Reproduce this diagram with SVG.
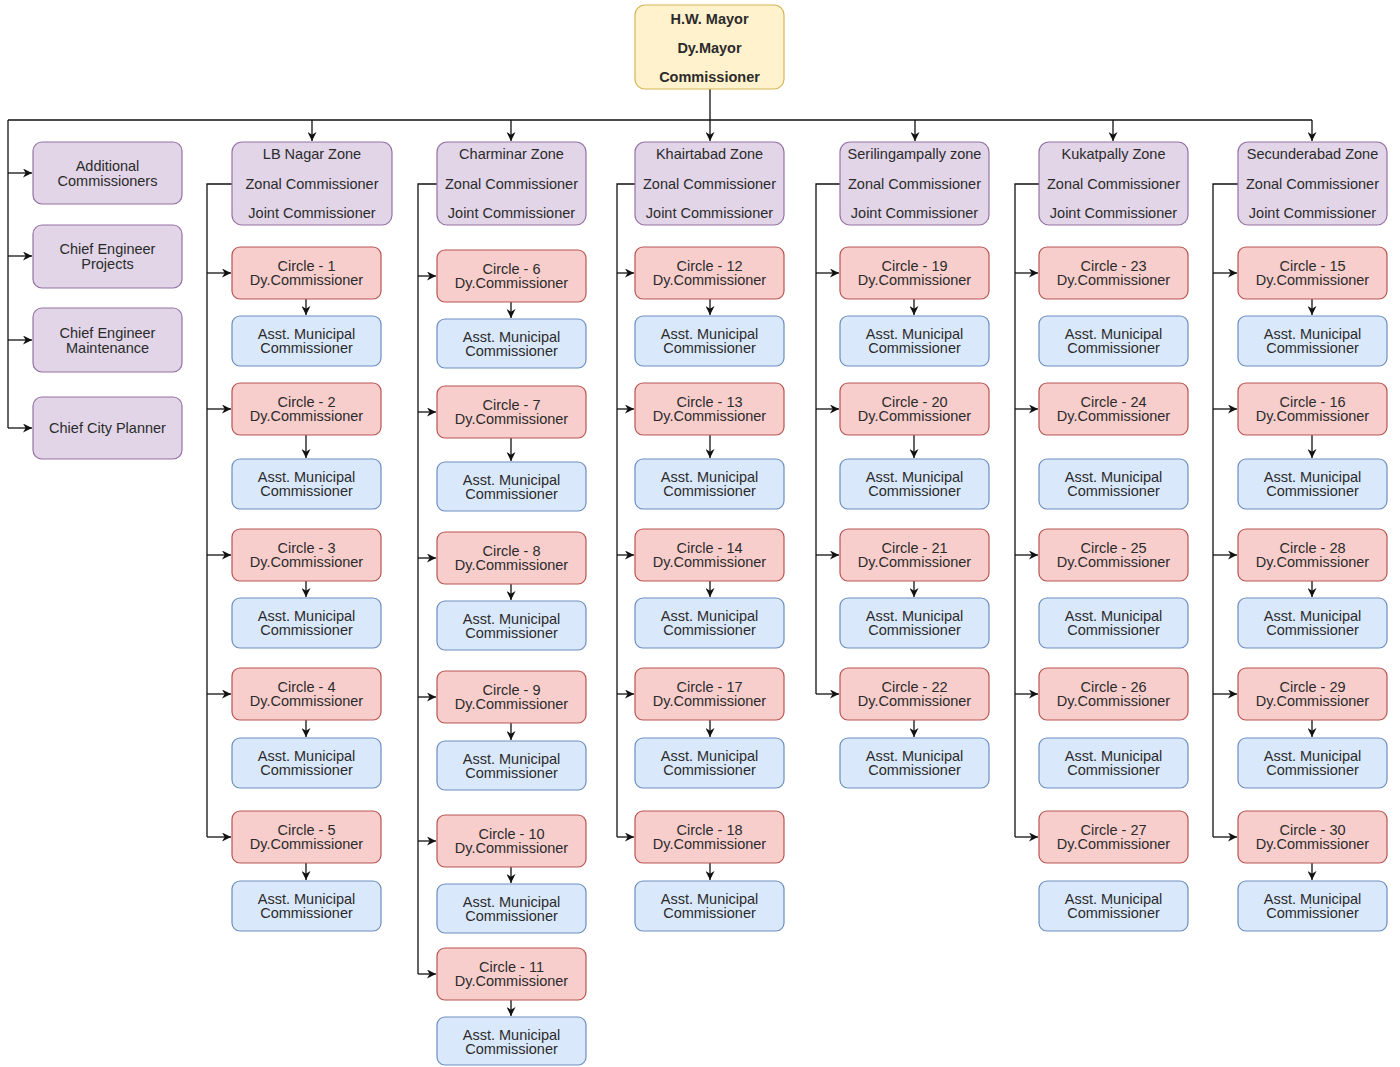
<svg xmlns="http://www.w3.org/2000/svg" width="1400" height="1067" viewBox="0 0 1400 1067">
<defs>
<marker id="arr" viewBox="0 0 10 10" refX="10" refY="5" markerWidth="10" markerHeight="9" markerUnits="userSpaceOnUse" orient="auto"><path d="M0,0 L10,5 L0,10 L3,5 z" fill="#111"/></marker>
<marker id="arrS" viewBox="0 0 10 10" refX="10" refY="5" markerWidth="8" markerHeight="8" markerUnits="userSpaceOnUse" orient="auto"><path d="M0,0 L10,5 L0,10 L3,5 z" fill="#111"/></marker>
<style>
text{font-family:"Liberation Sans",Arial,Helvetica,sans-serif;font-size:14.5px;fill:#2b2b2b;text-anchor:middle}
.b{font-weight:bold}
.y{fill:#fff2cc;stroke:#d6b656;stroke-width:1.2}
.p{fill:#e1d5e7;stroke:#9673a6;stroke-width:1.2}
.r{fill:#f8cecc;stroke:#b85450;stroke-width:1.2}
.u{fill:#dae8fc;stroke:#6c8ebf;stroke-width:1.2}
.c{fill:none;stroke:#111;stroke-width:1.3}
.c2{fill:none;stroke:#111;stroke-width:1.3;marker-end:url(#arr)}
.c3{fill:none;stroke:#111;stroke-width:1.3;marker-end:url(#arrS)}
</style>
</defs>
<rect width="1400" height="1067" fill="#fff"/>

<g id="connectors">
<path class="c" d="M8,120 H1312"/>
<path class="c2" d="M710,89 V141"/>
<path class="c2" d="M312,120 V141"/>
<path class="c2" d="M511,120 V141"/>
<path class="c2" d="M915,120 V141"/>
<path class="c2" d="M1113,120 V141"/>
<path class="c2" d="M1312,120 V141"/>
<path class="c" d="M8,120 V428"/>
<path class="c2" d="M8,173 H32"/>
<path class="c2" d="M8,256 H32"/>
<path class="c2" d="M8,340 H32"/>
<path class="c2" d="M8,428 H32"/>
<!-- zone inner arrows -->
<path class="c3" d="M319,192 V204"/>
<path class="c3" d="M512,192 V204"/>
<path class="c3" d="M710,192 V204"/>
<path class="c3" d="M927,192 V204"/>
<path class="c3" d="M1113,192 V204"/>
<path class="c3" d="M1312,192 V204"/>
<!-- LB Nagar -->
<path class="c" d="M232,184 H207 V837"/>
<path class="c2" d="M207,273 H231"/>
<path class="c2" d="M207,409 H231"/>
<path class="c2" d="M207,555 H231"/>
<path class="c2" d="M207,694 H231"/>
<path class="c2" d="M207,837 H231"/>
<path class="c2" d="M306,299 V315"/>
<path class="c2" d="M306,435 V458"/>
<path class="c2" d="M306,581 V597"/>
<path class="c2" d="M306,720 V737"/>
<path class="c2" d="M306,863 V880"/>
<!-- Charminar -->
<path class="c" d="M437,184 H418 V974"/>
<path class="c2" d="M418,276 H436"/>
<path class="c2" d="M418,412 H436"/>
<path class="c2" d="M418,558 H436"/>
<path class="c2" d="M418,697 H436"/>
<path class="c2" d="M418,841 H436"/>
<path class="c2" d="M418,974 H436"/>
<path class="c2" d="M511,302 V318"/>
<path class="c2" d="M511,438 V461"/>
<path class="c2" d="M511,584 V600"/>
<path class="c2" d="M511,723 V740"/>
<path class="c2" d="M511,867 V883"/>
<path class="c2" d="M511,1000 V1016"/>
<!-- Khairtabad -->
<path class="c" d="M635,184 H617 V837"/>
<path class="c2" d="M617,273 H634"/>
<path class="c2" d="M617,409 H634"/>
<path class="c2" d="M617,555 H634"/>
<path class="c2" d="M617,694 H634"/>
<path class="c2" d="M617,837 H634"/>
<path class="c2" d="M710,299 V315"/>
<path class="c2" d="M710,435 V458"/>
<path class="c2" d="M710,581 V597"/>
<path class="c2" d="M710,720 V737"/>
<path class="c2" d="M710,863 V880"/>
<!-- Serilingampally -->
<path class="c" d="M840,184 H816 V694"/>
<path class="c2" d="M816,273 H839"/>
<path class="c2" d="M816,409 H839"/>
<path class="c2" d="M816,555 H839"/>
<path class="c2" d="M816,694 H839"/>
<path class="c2" d="M914,299 V315"/>
<path class="c2" d="M914,435 V458"/>
<path class="c2" d="M914,581 V597"/>
<path class="c2" d="M914,720 V737"/>
<!-- Kukatpally -->
<path class="c" d="M1039,184 H1015 V837"/>
<path class="c2" d="M1015,273 H1038"/>
<path class="c2" d="M1015,409 H1038"/>
<path class="c2" d="M1015,555 H1038"/>
<path class="c2" d="M1015,694 H1038"/>
<path class="c2" d="M1015,837 H1038"/>
<!-- Secunderabad -->
<path class="c" d="M1238,184 H1213 V837"/>
<path class="c2" d="M1213,273 H1237"/>
<path class="c2" d="M1213,409 H1237"/>
<path class="c2" d="M1213,555 H1237"/>
<path class="c2" d="M1213,694 H1237"/>
<path class="c2" d="M1213,837 H1237"/>
<path class="c2" d="M1312,299 V315"/>
<path class="c2" d="M1312,435 V458"/>
<path class="c2" d="M1312,581 V597"/>
<path class="c2" d="M1312,720 V737"/>
<path class="c2" d="M1312,863 V880"/>
</g>

<g id="mayor"><rect class="y" x="635" y="5" width="149" height="84" rx="10"/>
<text class="b" x="709.5" y="24">H.W. Mayor</text><text class="b" x="709.5" y="53">Dy.Mayor</text><text class="b" x="709.5" y="82">Commissioner</text></g>

<g id="addl"><rect class="p" x="33" y="142" width="149" height="62" rx="9"/><text x="107.5" y="171">Additional</text><text x="107.5" y="186">Commissioners</text></g>
<g id="ceproj"><rect class="p" x="33" y="225" width="149" height="63" rx="9"/><text x="107.5" y="254">Chief Engineer</text><text x="107.5" y="269">Projects</text></g>
<g id="cemaint"><rect class="p" x="33" y="308" width="149" height="64" rx="9"/><text x="107.5" y="338">Chief Engineer</text><text x="107.5" y="353">Maintenance</text></g>
<g id="ccp"><rect class="p" x="33" y="397" width="149" height="62" rx="9"/><text x="107.5" y="433">Chief City Planner</text></g>

<g id="zone-lb"><rect class="p" x="232" y="142" width="160" height="83" rx="10"/><text x="312" y="159">LB Nagar Zone</text><text x="312" y="189">Zonal Commissioner</text><text x="312" y="218">Joint Commissioner</text></g>
<g id="zone-ch"><rect class="p" x="437" y="142" width="149" height="83" rx="10"/><text x="511.5" y="159">Charminar Zone</text><text x="511.5" y="189">Zonal Commissioner</text><text x="511.5" y="218">Joint Commissioner</text></g>
<g id="zone-kh"><rect class="p" x="635" y="142" width="149" height="83" rx="10"/><text x="709.5" y="159">Khairtabad Zone</text><text x="709.5" y="189">Zonal Commissioner</text><text x="709.5" y="218">Joint Commissioner</text></g>
<g id="zone-se"><rect class="p" x="840" y="142" width="149" height="83" rx="10"/><text x="914.5" y="159">Serilingampally zone</text><text x="914.5" y="189">Zonal Commissioner</text><text x="914.5" y="218">Joint Commissioner</text></g>
<g id="zone-ku"><rect class="p" x="1039" y="142" width="149" height="83" rx="10"/><text x="1113.5" y="159">Kukatpally Zone</text><text x="1113.5" y="189">Zonal Commissioner</text><text x="1113.5" y="218">Joint Commissioner</text></g>
<g id="zone-sc"><rect class="p" x="1238" y="142" width="149" height="83" rx="10"/><text x="1312.5" y="159">Secunderabad Zone</text><text x="1312.5" y="189">Zonal Commissioner</text><text x="1312.5" y="218">Joint Commissioner</text></g>

<!-- LB Nagar circles -->
<g id="c1"><rect class="r" x="232" y="247" width="149" height="52" rx="8"/><text x="306.5" y="271">Circle - 1</text><text x="306.5" y="285">Dy.Commissioner</text></g>
<g id="a1"><rect class="u" x="232" y="316" width="149" height="50" rx="8"/><text x="306.5" y="339">Asst. Municipal</text><text x="306.5" y="353">Commissioner</text></g>
<g id="c2"><rect class="r" x="232" y="383" width="149" height="52" rx="8"/><text x="306.5" y="407">Circle - 2</text><text x="306.5" y="421">Dy.Commissioner</text></g>
<g id="a2"><rect class="u" x="232" y="459" width="149" height="50" rx="8"/><text x="306.5" y="482">Asst. Municipal</text><text x="306.5" y="496">Commissioner</text></g>
<g id="c3"><rect class="r" x="232" y="529" width="149" height="52" rx="8"/><text x="306.5" y="553">Circle - 3</text><text x="306.5" y="567">Dy.Commissioner</text></g>
<g id="a3"><rect class="u" x="232" y="598" width="149" height="50" rx="8"/><text x="306.5" y="621">Asst. Municipal</text><text x="306.5" y="635">Commissioner</text></g>
<g id="c4"><rect class="r" x="232" y="668" width="149" height="52" rx="8"/><text x="306.5" y="692">Circle - 4</text><text x="306.5" y="706">Dy.Commissioner</text></g>
<g id="a4"><rect class="u" x="232" y="738" width="149" height="50" rx="8"/><text x="306.5" y="761">Asst. Municipal</text><text x="306.5" y="775">Commissioner</text></g>
<g id="c5"><rect class="r" x="232" y="811" width="149" height="52" rx="8"/><text x="306.5" y="835">Circle - 5</text><text x="306.5" y="849">Dy.Commissioner</text></g>
<g id="a5"><rect class="u" x="232" y="881" width="149" height="50" rx="8"/><text x="306.5" y="904">Asst. Municipal</text><text x="306.5" y="918">Commissioner</text></g>

<!-- Charminar circles -->
<g id="c6"><rect class="r" x="437" y="250" width="149" height="52" rx="8"/><text x="511.5" y="274">Circle - 6</text><text x="511.5" y="288">Dy.Commissioner</text></g>
<g id="a6"><rect class="u" x="437" y="319" width="149" height="49" rx="8"/><text x="511.5" y="342">Asst. Municipal</text><text x="511.5" y="356">Commissioner</text></g>
<g id="c7"><rect class="r" x="437" y="386" width="149" height="52" rx="8"/><text x="511.5" y="410">Circle - 7</text><text x="511.5" y="424">Dy.Commissioner</text></g>
<g id="a7"><rect class="u" x="437" y="462" width="149" height="49" rx="8"/><text x="511.5" y="485">Asst. Municipal</text><text x="511.5" y="499">Commissioner</text></g>
<g id="c8"><rect class="r" x="437" y="532" width="149" height="52" rx="8"/><text x="511.5" y="556">Circle - 8</text><text x="511.5" y="570">Dy.Commissioner</text></g>
<g id="a8"><rect class="u" x="437" y="601" width="149" height="49" rx="8"/><text x="511.5" y="624">Asst. Municipal</text><text x="511.5" y="638">Commissioner</text></g>
<g id="c9"><rect class="r" x="437" y="671" width="149" height="52" rx="8"/><text x="511.5" y="695">Circle - 9</text><text x="511.5" y="709">Dy.Commissioner</text></g>
<g id="a9"><rect class="u" x="437" y="741" width="149" height="49" rx="8"/><text x="511.5" y="764">Asst. Municipal</text><text x="511.5" y="778">Commissioner</text></g>
<g id="c10"><rect class="r" x="437" y="815" width="149" height="52" rx="8"/><text x="511.5" y="839">Circle - 10</text><text x="511.5" y="853">Dy.Commissioner</text></g>
<g id="a10"><rect class="u" x="437" y="884" width="149" height="49" rx="8"/><text x="511.5" y="907">Asst. Municipal</text><text x="511.5" y="921">Commissioner</text></g>
<g id="c11"><rect class="r" x="437" y="948" width="149" height="52" rx="8"/><text x="511.5" y="972">Circle - 11</text><text x="511.5" y="986">Dy.Commissioner</text></g>
<g id="a11"><rect class="u" x="437" y="1017" width="149" height="48" rx="8"/><text x="511.5" y="1040">Asst. Municipal</text><text x="511.5" y="1054">Commissioner</text></g>

<!-- Khairtabad circles -->
<g id="c12"><rect class="r" x="635" y="247" width="149" height="52" rx="8"/><text x="709.5" y="271">Circle - 12</text><text x="709.5" y="285">Dy.Commissioner</text></g>
<g id="a12"><rect class="u" x="635" y="316" width="149" height="50" rx="8"/><text x="709.5" y="339">Asst. Municipal</text><text x="709.5" y="353">Commissioner</text></g>
<g id="c13"><rect class="r" x="635" y="383" width="149" height="52" rx="8"/><text x="709.5" y="407">Circle - 13</text><text x="709.5" y="421">Dy.Commissioner</text></g>
<g id="a13"><rect class="u" x="635" y="459" width="149" height="50" rx="8"/><text x="709.5" y="482">Asst. Municipal</text><text x="709.5" y="496">Commissioner</text></g>
<g id="c14"><rect class="r" x="635" y="529" width="149" height="52" rx="8"/><text x="709.5" y="553">Circle - 14</text><text x="709.5" y="567">Dy.Commissioner</text></g>
<g id="a14"><rect class="u" x="635" y="598" width="149" height="50" rx="8"/><text x="709.5" y="621">Asst. Municipal</text><text x="709.5" y="635">Commissioner</text></g>
<g id="c17"><rect class="r" x="635" y="668" width="149" height="52" rx="8"/><text x="709.5" y="692">Circle - 17</text><text x="709.5" y="706">Dy.Commissioner</text></g>
<g id="a17"><rect class="u" x="635" y="738" width="149" height="50" rx="8"/><text x="709.5" y="761">Asst. Municipal</text><text x="709.5" y="775">Commissioner</text></g>
<g id="c18"><rect class="r" x="635" y="811" width="149" height="52" rx="8"/><text x="709.5" y="835">Circle - 18</text><text x="709.5" y="849">Dy.Commissioner</text></g>
<g id="a18"><rect class="u" x="635" y="881" width="149" height="50" rx="8"/><text x="709.5" y="904">Asst. Municipal</text><text x="709.5" y="918">Commissioner</text></g>

<!-- Serilingampally circles -->
<g id="c19"><rect class="r" x="840" y="247" width="149" height="52" rx="8"/><text x="914.5" y="271">Circle - 19</text><text x="914.5" y="285">Dy.Commissioner</text></g>
<g id="a19"><rect class="u" x="840" y="316" width="149" height="50" rx="8"/><text x="914.5" y="339">Asst. Municipal</text><text x="914.5" y="353">Commissioner</text></g>
<g id="c20"><rect class="r" x="840" y="383" width="149" height="52" rx="8"/><text x="914.5" y="407">Circle - 20</text><text x="914.5" y="421">Dy.Commissioner</text></g>
<g id="a20"><rect class="u" x="840" y="459" width="149" height="50" rx="8"/><text x="914.5" y="482">Asst. Municipal</text><text x="914.5" y="496">Commissioner</text></g>
<g id="c21"><rect class="r" x="840" y="529" width="149" height="52" rx="8"/><text x="914.5" y="553">Circle - 21</text><text x="914.5" y="567">Dy.Commissioner</text></g>
<g id="a21"><rect class="u" x="840" y="598" width="149" height="50" rx="8"/><text x="914.5" y="621">Asst. Municipal</text><text x="914.5" y="635">Commissioner</text></g>
<g id="c22"><rect class="r" x="840" y="668" width="149" height="52" rx="8"/><text x="914.5" y="692">Circle - 22</text><text x="914.5" y="706">Dy.Commissioner</text></g>
<g id="a22"><rect class="u" x="840" y="738" width="149" height="50" rx="8"/><text x="914.5" y="761">Asst. Municipal</text><text x="914.5" y="775">Commissioner</text></g>

<!-- Kukatpally circles -->
<g id="c23"><rect class="r" x="1039" y="247" width="149" height="52" rx="8"/><text x="1113.5" y="271">Circle - 23</text><text x="1113.5" y="285">Dy.Commissioner</text></g>
<g id="a23"><rect class="u" x="1039" y="316" width="149" height="50" rx="8"/><text x="1113.5" y="339">Asst. Municipal</text><text x="1113.5" y="353">Commissioner</text></g>
<g id="c24"><rect class="r" x="1039" y="383" width="149" height="52" rx="8"/><text x="1113.5" y="407">Circle - 24</text><text x="1113.5" y="421">Dy.Commissioner</text></g>
<g id="a24"><rect class="u" x="1039" y="459" width="149" height="50" rx="8"/><text x="1113.5" y="482">Asst. Municipal</text><text x="1113.5" y="496">Commissioner</text></g>
<g id="c25"><rect class="r" x="1039" y="529" width="149" height="52" rx="8"/><text x="1113.5" y="553">Circle - 25</text><text x="1113.5" y="567">Dy.Commissioner</text></g>
<g id="a25"><rect class="u" x="1039" y="598" width="149" height="50" rx="8"/><text x="1113.5" y="621">Asst. Municipal</text><text x="1113.5" y="635">Commissioner</text></g>
<g id="c26"><rect class="r" x="1039" y="668" width="149" height="52" rx="8"/><text x="1113.5" y="692">Circle - 26</text><text x="1113.5" y="706">Dy.Commissioner</text></g>
<g id="a26"><rect class="u" x="1039" y="738" width="149" height="50" rx="8"/><text x="1113.5" y="761">Asst. Municipal</text><text x="1113.5" y="775">Commissioner</text></g>
<g id="c27"><rect class="r" x="1039" y="811" width="149" height="52" rx="8"/><text x="1113.5" y="835">Circle - 27</text><text x="1113.5" y="849">Dy.Commissioner</text></g>
<g id="a27"><rect class="u" x="1039" y="881" width="149" height="50" rx="8"/><text x="1113.5" y="904">Asst. Municipal</text><text x="1113.5" y="918">Commissioner</text></g>

<!-- Secunderabad circles -->
<g id="c15"><rect class="r" x="1238" y="247" width="149" height="52" rx="8"/><text x="1312.5" y="271">Circle - 15</text><text x="1312.5" y="285">Dy.Commissioner</text></g>
<g id="a15"><rect class="u" x="1238" y="316" width="149" height="50" rx="8"/><text x="1312.5" y="339">Asst. Municipal</text><text x="1312.5" y="353">Commissioner</text></g>
<g id="c16"><rect class="r" x="1238" y="383" width="149" height="52" rx="8"/><text x="1312.5" y="407">Circle - 16</text><text x="1312.5" y="421">Dy.Commissioner</text></g>
<g id="a16"><rect class="u" x="1238" y="459" width="149" height="50" rx="8"/><text x="1312.5" y="482">Asst. Municipal</text><text x="1312.5" y="496">Commissioner</text></g>
<g id="c28"><rect class="r" x="1238" y="529" width="149" height="52" rx="8"/><text x="1312.5" y="553">Circle - 28</text><text x="1312.5" y="567">Dy.Commissioner</text></g>
<g id="a28"><rect class="u" x="1238" y="598" width="149" height="50" rx="8"/><text x="1312.5" y="621">Asst. Municipal</text><text x="1312.5" y="635">Commissioner</text></g>
<g id="c29"><rect class="r" x="1238" y="668" width="149" height="52" rx="8"/><text x="1312.5" y="692">Circle - 29</text><text x="1312.5" y="706">Dy.Commissioner</text></g>
<g id="a29"><rect class="u" x="1238" y="738" width="149" height="50" rx="8"/><text x="1312.5" y="761">Asst. Municipal</text><text x="1312.5" y="775">Commissioner</text></g>
<g id="c30"><rect class="r" x="1238" y="811" width="149" height="52" rx="8"/><text x="1312.5" y="835">Circle - 30</text><text x="1312.5" y="849">Dy.Commissioner</text></g>
<g id="a30"><rect class="u" x="1238" y="881" width="149" height="50" rx="8"/><text x="1312.5" y="904">Asst. Municipal</text><text x="1312.5" y="918">Commissioner</text></g>
</svg>
